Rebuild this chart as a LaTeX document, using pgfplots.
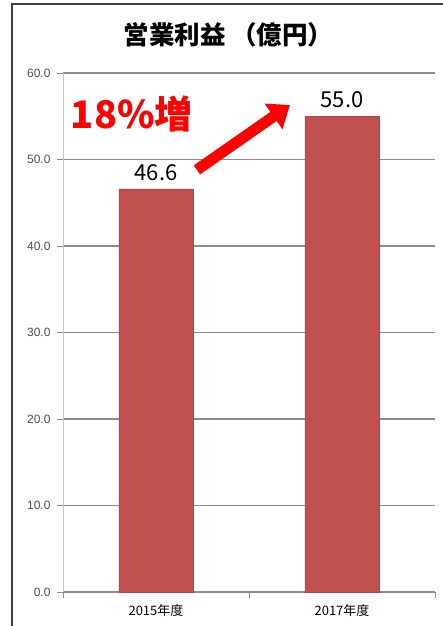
\documentclass[border=0pt]{standalone}
\usepackage{pgfplots}
\pgfplotsset{compat=1.18}
\usepackage{fontspec}
\setmainfont{Liberation Sans}
\newfontfamily\cjk{Noto Sans CJK JP}
\usetikzlibrary{arrows.meta}
\definecolor{barred}{RGB}{192,80,77}
\definecolor{gridgray}{RGB}{140,140,140}
\begin{document}
\begin{tikzpicture}
\begin{axis}[
  name=ax,
  scale only axis,
  width=372pt, height=519pt,
  xmin=-0.5, xmax=1.5,
  ymin=0, ymax=60,
  ytick={0,10,...,60},
  yticklabel style={/pgf/number format/fixed,/pgf/number format/fixed zerofill,/pgf/number format/precision=1},
  /pgf/number format/assume math mode=true,
  ymajorgrids,
  grid style={gridgray, line width=1.2pt},
  xtick={-0.5,0.5,1.5},
  xticklabels={},
  extra x ticks={0,1},
  extra x tick labels={{\cjk 2015年度},{\cjk 2017年度}},
  extra x tick style={major tick length=0pt, grid=none, tick label style={font=\cjk\fontsize{13}{15}\selectfont, yshift=-9pt}},
  tick style={gridgray, line width=0.8pt},
  major tick length=6pt,
  xtick pos=bottom, ytick pos=left,
  tick align=outside,
  axis line style={gridgray, line width=0.8pt},
  axis x line*=bottom,
  axis y line*=left,
  y axis line style={draw=gridgray!50},
  y tick label style={font=\fontsize{12}{14}\selectfont, color=black!70, xshift=-3pt},
  clip=false,
  ybar, bar width=0.4,
  nodes near coords,
  nodes near coords style={font=\cjk\fontsize{22}{24}\selectfont, color=black, yshift=5pt, /pgf/number format/fixed, /pgf/number format/fixed zerofill, /pgf/number format/precision=1},
]
\addplot[fill=barred, draw=barred!90!black] coordinates {(0,46.6) (1,55.0)};
\node[font=\cjk\bfseries\fontsize{25.5}{28}\selectfont] at (rel axis cs:0.445,1.073) {営業利益 （億円）};
\node[font=\cjk\bfseries\fontsize{38}{40}\selectfont, text=red] at (axis cs:-0.13,55.3) {18\%増};
\draw[red, line width=11pt, -{Triangle[length=20pt,width=30pt]}] (axis cs:0.22,48.8) -- (axis cs:0.72,56.3);
\end{axis}
\pgfresetboundingbox
\path[use as bounding box] ([xshift=-63pt,yshift=-34pt]ax.south west) rectangle ([xshift=380pt,yshift=592pt]ax.south west);
\draw[black!75, line width=1.2pt] ([xshift=-51pt,yshift=-40pt]ax.south west) -- ([xshift=-51pt,yshift=588pt]ax.south west) -- ([xshift=390pt,yshift=588pt]ax.south west);
\end{tikzpicture}
\end{document}
